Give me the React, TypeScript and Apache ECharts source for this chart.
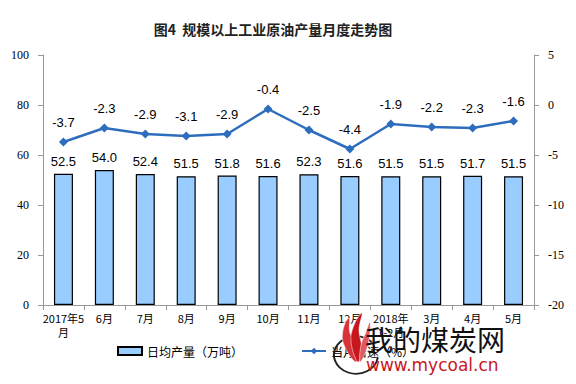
import React, { useEffect, useRef } from "react";
import * as echarts from "echarts";

const categories = ["2017年5\n月", "6月", "7月", "8月", "9月", "10月", "11月", "12月", "2018年\n1-2月", "3月", "4月", "5月"];
const dailyOutput = [52.5, 54.0, 52.4, 51.5, 51.8, 51.6, 52.3, 51.6, 51.5, 51.5, 51.7, 51.5];
const growth = [-3.7, -2.3, -2.9, -3.1, -2.9, -0.4, -2.5, -4.4, -1.9, -2.2, -2.3, -1.6];
const leftTicks = [0, 20, 40, 60, 80, 100];
const rightTicks = [-20, -15, -10, -5, 0, 5];

export default function App() {
  const ref = useRef<HTMLDivElement>(null);
  useEffect(() => {
    const chart = echarts.init(ref.current!, null, { renderer: "svg" });
    const flame = (pts: number[][], color: string) => ({
      type: "polygon",
      shape: { points: pts, smooth: 0.4 },
      style: { fill: color, stroke: "#fff", lineWidth: 0.5 },
      z: 100,
    });
    chart.setOption({
      animation: false,
      backgroundColor: "#fff",
      title: {
        text: "图4  规模以上工业原油产量月度走势图",
        left: 268,
        textAlign: "center",
        top: 17,
        textStyle: { fontFamily: "Noto Sans CJK SC", fontSize: 14, fontWeight: "bold", color: "#222" },
      },
      legend: {
        bottom: 22,
        left: 112,
        itemGap: 58,
        itemWidth: 24,
        itemHeight: 8,
        textStyle: { fontFamily: "Noto Sans CJK SC", fontSize: 12, color: "#000" },
        data: [
          { name: "日均产量（万吨）", icon: "rect" },
          { name: "当月增速（%）" },
        ],
      },
      grid: { left: 43, right: 42, top: 55, bottom: 79 },
      xAxis: {
        type: "category",
        data: categories,
        axisLine: { lineStyle: { color: "#999" } },
        axisTick: { show: true, lineStyle: { color: "#999" } },
        axisLabel: { fontFamily: "Noto Sans CJK SC", fontSize: 11, color: "#000", margin: 6, lineHeight: 14, interval: 0 },
      },
      yAxis: [
        {
          type: "value",
          min: leftTicks[0],
          max: leftTicks[leftTicks.length - 1],
          interval: 20,
          splitLine: { show: false },
          axisLine: { show: true, lineStyle: { color: "#999" } },
          axisTick: { show: true, lineStyle: { color: "#999" } },
          axisLabel: { fontFamily: "Liberation Serif", fontSize: 12, color: "#000", margin: 14 },
        },
        {
          type: "value",
          min: rightTicks[0],
          max: rightTicks[rightTicks.length - 1],
          interval: 5,
          splitLine: { show: false },
          axisLine: { show: true, lineStyle: { color: "#999" } },
          axisTick: { show: true, lineStyle: { color: "#999" } },
          axisLabel: { fontFamily: "Liberation Serif", fontSize: 12, color: "#000", margin: 14 },
        },
      ],
      series: [
        {
          name: "日均产量（万吨）",
          type: "bar",
          data: dailyOutput,
          barWidth: 19,
          itemStyle: { color: "#99CCFF", borderColor: "#000", borderWidth: 1.2 },
          label: {
            show: true,
            position: "top",
            distance: 6,
            formatter: (p: any) => p.value.toFixed(1),
            fontFamily: "Liberation Sans",
            fontSize: 13,
            color: "#000",
          },
        },
        {
          name: "当月增速（%）",
          type: "line",
          yAxisIndex: 1,
          data: growth,
          symbol: "diamond",
          symbolSize: 9,
          lineStyle: { color: "#2E6DBE", width: 2.5 },
          itemStyle: { color: "#2E6DBE" },
          label: {
            show: true,
            position: "top",
            distance: 9,
            formatter: (p: any) => p.value.toFixed(1),
            fontFamily: "Liberation Sans",
            fontSize: 13,
            color: "#000",
          },
        },
      ],
      graphic: [
        {
          type: "arc",
          shape: { cx: 356, cy: 355, r: 22, startAngle: Math.PI * 0.05, endAngle: Math.PI * 1.75 },
          scaleY: 0.85,
          originX: 356,
          originY: 355,
          style: { fill: "none", stroke: "#222", lineWidth: 2 },
          z: 100,
        },
        flame([[356, 362], [344, 345], [343, 330], [349, 318], [350, 333], [358, 348]], "#D9333A"),
        flame([[358, 362], [351, 342], [354, 325], [362, 313], [359, 330], [362, 350]], "#C8161D"),
        flame([[360, 362], [361, 345], [366, 332], [370, 322], [369, 340], [364, 356]], "#E05A5F"),
        {
          type: "text",
          x: 365,
          y: 325,
          style: { text: "我的煤炭网", fontFamily: "Noto Sans CJK SC", fontSize: 28, fill: "#111" },
          z: 100,
        },
        {
          type: "text",
          x: 366,
          y: 356,
          style: { text: "www.mycoal.cn", fontFamily: "DejaVu Sans", fontSize: 17, fill: "#C8161D" },
          z: 100,
        },
      ],
    });
    return () => chart.dispose();
  }, []);
  return <div ref={ref} style={{ width: 576, height: 384, margin: -8 }} />;
}
